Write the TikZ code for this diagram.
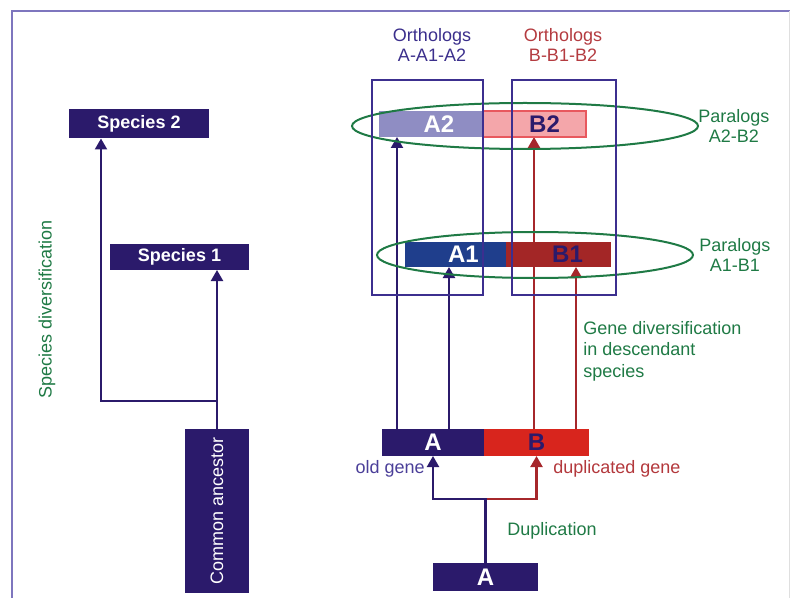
\documentclass[tikz,border=0pt]{standalone}
\usepackage{fontspec}
\setmainfont{Liberation Sans}
\usepackage{tikz}
\usetikzlibrary{arrows.meta,shapes.geometric,positioning,backgrounds}

\definecolor{spcol}{HTML}{2B1A6B}
\definecolor{orthcol}{HTML}{3C2F8F}
\definecolor{orthAcol}{HTML}{3B2F8C}
\definecolor{orthBcol}{HTML}{B43B40}
\definecolor{a2col}{HTML}{8F8DC3}
\definecolor{b2col}{HTML}{F4A6AA}
\definecolor{b2edge}{HTML}{E8585E}
\definecolor{a1col}{HTML}{1F3E8C}
\definecolor{b1col}{HTML}{A32626}
\definecolor{bcol}{HTML}{D8251D}
\definecolor{rline}{HTML}{A6272B}
\definecolor{grn}{HTML}{1F7A45}
\definecolor{oldcol}{HTML}{4B3F99}
\definecolor{dupcol}{HTML}{B3383C}
\definecolor{framecol}{HTML}{7E76BE}

\begin{document}
\begin{tikzpicture}[x=0.5pt,y=-0.5pt,
  font=\fontsize{9}{10}\selectfont,
  sz/.style 2 args={minimum width=#1*0.5pt, minimum height=#2*0.5pt},
  spbox/.style={fill=spcol, text=white, inner sep=0pt, outer sep=0pt},
  gbar/.style={inner sep=0pt, outer sep=0pt, font=\fontsize{12}{12}\selectfont\bfseries},
  orthbox/.style={draw=orthcol, line width=1pt, inner sep=0pt, outer sep=0pt},
  paraell/.style={ellipse, draw=grn, line width=1pt, inner sep=0pt, outer sep=0pt},
  grntxt/.style={text=grn, inner sep=0pt},
  bconn/.style={draw=spcol, line width=1.1pt, -{Triangle[width=6pt,length=5.5pt]}},
  rconn/.style={draw=rline, line width=1.1pt, -{Triangle[width=6pt,length=5.5pt]}}]
\tikzstyle{every node}+=[inner sep=0pt]
\useasboundingbox (0,0) rectangle (790,598);
\draw[framecol, line width=1pt] (790,11) -- (12,11) -- (12,598);
\draw[gray!25, line width=0.5pt] (789,11) -- (789,598);

\node[spbox, font=\fontsize{9}{10}\selectfont\bfseries, sz={140}{29}] (sp2) at (139,124) {Species 2};
\node[spbox, font=\fontsize{9}{10}\selectfont\bfseries, sz={139}{26}] (sp1) at (179.5,257) {Species 1};
\node[spbox, rotate=90, sz={164}{64}] (anc) at (217,511) {Common ancestor};
\node[grntxt, rotate=90] (spdiv) at (47,309) {Species diversification};
\coordinate (split) at (217,401);
\coordinate (sp2in) at (101,401);
\draw[bconn] (anc.east) -- (anc.east |- sp1.south);
\draw[bconn] (split) -- (sp2in) -- (sp2in |- sp2.south);

\node[text=orthAcol, align=center] (orthAtxt) at (432,45) {Orthologs\\A-A1-A2};
\node[text=orthBcol, align=center] (orthBtxt) at (563,45) {Orthologs\\B-B1-B2};

\node[gbar, fill=a2col, text=white, sz={104}{26}] (A2) at (431,124) {\hspace{8pt}A2};
\node[gbar, fill=b2col, draw=b2edge, line width=0.6pt, text=spcol, sz={103}{26}] (B2) at (534.5,124) {\hspace{10pt}B2};
\node[gbar, fill=a1col, text=white, sz={101}{25}] (A1) at (455.5,254.5) {\hspace{8pt}A1};
\node[gbar, fill=b1col, text=spcol, sz={105}{25}] (B1) at (558.5,254.5) {\hspace{9pt}B1};

\node[gbar, fill=spcol, text=white, sz={102}{27}] (geneA) at (433,442.5) {A};
\node[gbar, fill=bcol, text=spcol, sz={105}{27}] (geneB) at (536.5,442.5) {B};
\node[gbar, fill=spcol, text=white, sz={105}{28}] (A0) at (485.5,577) {A};

\coordinate (a2x) at ([xshift=-18pt]geneA.north);
\coordinate (a1x) at ([xshift=8pt]geneA.north);
\coordinate (b2x) at ([xshift=-1.25pt]geneB.north);
\coordinate (b1x) at ([xshift=19.75pt]geneB.north);
\begin{scope}[on background layer]
\draw[bconn] (a2x) -- (a2x |- A2.south);
\draw[bconn] (a1x) -- (a1x |- A1.south);
\draw[rconn] (b2x) -- (b2x |- B2.south);
\draw[rconn] (b1x) -- (b1x |- B1.south);
\end{scope}

\node[paraell, sz={346}{46}] (par2) at (525,126) {};
\node[paraell, sz={316}{46}] (par1) at (535,255) {};
\node[grntxt, align=center, anchor=west] (par2txt) at (par2.east) {Paralogs\\A2-B2};
\node[grntxt, align=center, anchor=west, xshift=3pt] (par1txt) at (par1.east) {Paralogs\\A1-B1};

\node[orthbox, sz={111}{215}] (orthA) at (427.5,187.5) {};
\node[orthbox, sz={104}{215}] (orthB) at (564,187.5) {};

\node[grntxt, align=left, anchor=north west, font=\fontsize{9}{10.75}\selectfont] (genediv) at (583,321) {Gene diversification\\in descendant\\species};

\coordinate (dup) at (485.5,499);
\draw[rconn] (dup) -| (geneB.south);
\draw[bconn] (A0.north) -- (dup) -| (geneA.south);
\node[text=oldcol, anchor=east] (oldtxt) at (425,469) {old gene};
\node[text=dupcol, anchor=west] (duptxt) at (553,469) {duplicated gene};
\node[grntxt] (duplab) at (552,531) {Duplication};
\end{tikzpicture}
\end{document}
